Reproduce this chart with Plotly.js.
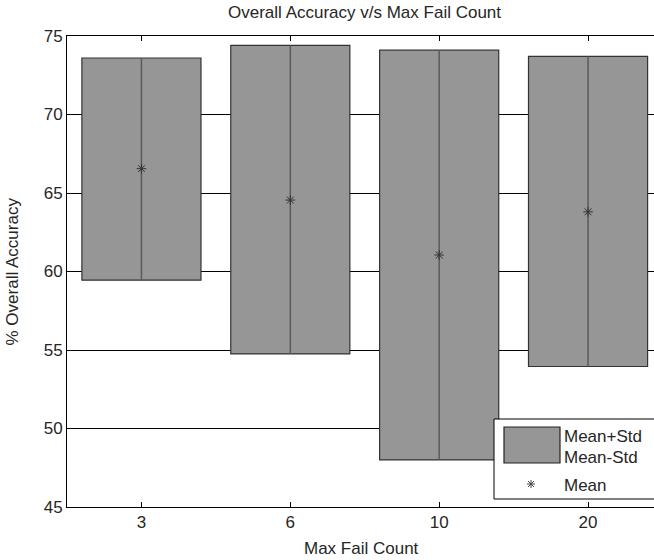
<!DOCTYPE html>
<html><head><meta charset="utf-8">
<script src="https://cdn.plot.ly/plotly-3.0.1.min.js"></script>
<style>body{margin:0;background:#fff}#c{width:654px;height:560px}</style>
</head><body><div id="c"></div>
<script>
var categories = ["3", "6", "10", "20"];
var meanVals = [66.55, 64.55, 61.05, 63.8];
var upperVals = [73.6, 74.4, 74.1, 73.7];
var lowerVals = [59.45, 54.75, 48.0, 53.95];

var pos = categories.map(function(c, i){ return i + 1; });
var lineX = [], lineY = [];
pos.forEach(function(p, i){ lineX.push(p, p, null); lineY.push(lowerVals[i], upperVals[i], null); });

var F = "Liberation Sans, Arial, sans-serif";
var FS = 17;
var TC = "#262626";
function px(x){ return (x - 67) / 587; }
function py(y){ return (507 - y) / 471; }

var traces = [
  {type: "bar", x: pos, base: lowerVals,
   y: upperVals.map(function(u, i){ return u - lowerVals[i]; }),
   width: 0.8, marker: {color: "#969696", line: {color: "#333333", width: 1.2}},
   showlegend: false, hoverinfo: "skip"},
  {type: "scatter", mode: "lines", x: lineX, y: lineY,
   line: {color: "#5a5a5a", width: 1.5}, showlegend: false, hoverinfo: "skip"},
  {type: "scatter", mode: "markers", x: pos, y: meanVals,
   marker: {symbol: "asterisk-open", size: 8, color: "#333333", line: {color: "#333333", width: 1}},
   showlegend: false}
];

// legend asterisk glyph (pixel-sized line shapes)
var starShapes = [[-4,0,4,0],[0,-4,0,4],[-3,-3,3,3],[-3,3,3,-3]].map(function(s){
  return {type: "line", xref: "paper", yref: "paper", xsizemode: "pixel", ysizemode: "pixel",
    xanchor: px(531), yanchor: py(484), x0: s[0], x1: s[2], y0: s[1], y1: s[3],
    line: {color: "#444", width: 1}, layer: "above"};
});

var layout = {
  width: 654, height: 560,
  margin: {l: 67, r: 0, t: 36, b: 53},
  paper_bgcolor: "#fff", plot_bgcolor: "#fff",
  font: {family: F, size: FS, color: TC},
  xaxis: {range: [0.5, 4.443], tickvals: pos, ticktext: categories,
    ticks: "inside", ticklen: 5, tickcolor: "#000", tickwidth: 1,
    showline: true, linecolor: "#000", linewidth: 1, mirror: "ticks",
    showgrid: false, zeroline: false, fixedrange: true,
    tickfont: {size: FS, family: F, color: TC}},
  yaxis: {range: [45, 75], dtick: 5, tick0: 45, ticks: "",
    showline: true, linecolor: "#000", linewidth: 1,
    showgrid: true, gridcolor: "#000", gridwidth: 1, zeroline: false,
    tickfont: {size: FS, family: F, color: TC}},
  bargap: 0,
  annotations: [
    {text: "Overall Accuracy v/s Max Fail Count", xref: "paper", yref: "paper",
     x: px(365), y: 1, yshift: 24, xanchor: "center", yanchor: "middle", showarrow: false,
     font: {size: FS, family: F, color: TC}},
    {text: "Max Fail Count", xref: "paper", yref: "paper", x: px(362), y: 0, yshift: -41,
     xanchor: "center", yanchor: "middle", showarrow: false, font: {size: FS, family: F, color: TC}},
    {text: "% Overall Accuracy", xref: "paper", yref: "paper", x: 0, xshift: -55, y: 0.5,
     textangle: -90, xanchor: "center", yanchor: "middle", showarrow: false, font: {size: FS, family: F, color: TC}},
    {text: "Mean+Std", xref: "paper", yref: "paper", x: px(562), y: py(436),
     xanchor: "left", yanchor: "middle", showarrow: false, font: {size: FS, family: F, color: TC}},
    {text: "Mean-Std", xref: "paper", yref: "paper", x: px(562), y: py(457),
     xanchor: "left", yanchor: "middle", showarrow: false, font: {size: FS, family: F, color: TC}},
    {text: "Mean", xref: "paper", yref: "paper", x: px(562), y: py(485),
     xanchor: "left", yanchor: "middle", showarrow: false, font: {size: FS, family: F, color: TC}}
  ],
  shapes: [
    {type: "rect", xref: "paper", yref: "paper", x0: px(494), x1: 1.01, y0: py(499), y1: py(419),
     fillcolor: "#fff", line: {color: "#000", width: 1}, layer: "above"},
    {type: "rect", xref: "paper", yref: "paper", x0: px(504), x1: px(560), y0: py(463), y1: py(427),
     fillcolor: "#969696", line: {color: "#222", width: 1.2}, layer: "above"}
  ].concat(starShapes)
};
Plotly.newPlot("c", traces, layout, {displayModeBar: false, staticPlot: true});
</script></body></html>
